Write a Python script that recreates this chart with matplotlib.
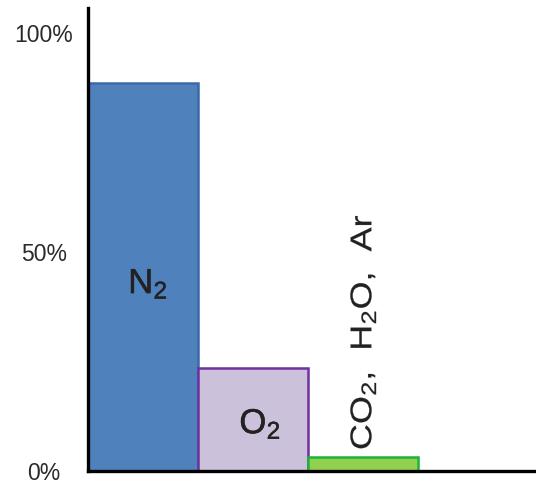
import matplotlib
matplotlib.use("Agg")
import matplotlib.pyplot as plt
from matplotlib.textpath import TextPath
from matplotlib.patches import PathPatch
from matplotlib.font_manager import FontProperties
from matplotlib.transforms import Affine2D, IdentityTransform
import matplotlib.patheffects as pe

plt.rcParams['font.family'] = ['Liberation Sans', 'DejaVu Sans']
plt.rcParams['mathtext.default'] = 'regular'

categories = ['N$_2$', 'O$_2$', 'CO$_2$,  H$_2$O,  Ar']
values = [88.5, 23.5, 3.2]
tick_values = [0, 50, 100]
tick_labels = ['0%', '50%', '100%']

face = ['#4F81BD', '#CCC1DA', '#92D050']
edge = ['#3A6AA8', '#7030A0', '#1DB33C']

fig = plt.figure(figsize=(5.36, 4.84), dpi=100)
ax = fig.add_axes([88/536, 13/484, 448/536, 463/484])

x = list(range(len(values)))
ax.bar(x, values, width=1.0, align='edge', color=face, edgecolor=edge, linewidth=1.8, zorder=2)

ax.set_xlim(0, 4.07)
ax.set_ylim(0, 105.7)
ax.set_yticks(tick_values)
ax.set_yticklabels(tick_labels, fontsize=16.5, color='#2a2a2a', ha='center')
ax.tick_params(axis='y', length=0, pad=31.7)
ax.set_xticks([])
for s in ['top', 'right']:
    ax.spines[s].set_visible(False)
for s in ['left', 'bottom']:
    ax.spines[s].set_linewidth(2.4)
    ax.spines[s].set_color('black')
    ax.spines[s].set_zorder(3)

bold = [pe.withStroke(linewidth=0.35, foreground='#222222')]
ax.text(x[0] + 0.545, 42.7, categories[0], ha='center', va='center', fontsize=25,
        color='#222222', path_effects=bold)
ax.text(x[1] + 0.564, 10.7, categories[1], ha='center', va='center', fontsize=25,
        color='#222222', path_effects=bold)

# rotated, horizontally stretched label for the minor gases
fig.canvas.draw()
tp = TextPath((0, 0), categories[2], size=30, prop=FontProperties(family='Liberation Sans'))
bb = tp.get_extents()
cx_px, cy_px = ax.transData.transform((x[2] + 0.5, 31.7))
tr = (Affine2D().translate(-(bb.x0 + bb.x1) / 2, -(bb.y0 + bb.y1) / 2)
      .scale(1.2, 1.0).rotate_deg(90).translate(cx_px, cy_px))
patch = PathPatch(tr.transform_path(tp), facecolor='#222222', edgecolor='#222222',
                  linewidth=0.15, transform=IdentityTransform(), zorder=4)
fig.patches.append(patch)
patch.set_figure(fig)

fig.savefig('out.png', dpi=100)
